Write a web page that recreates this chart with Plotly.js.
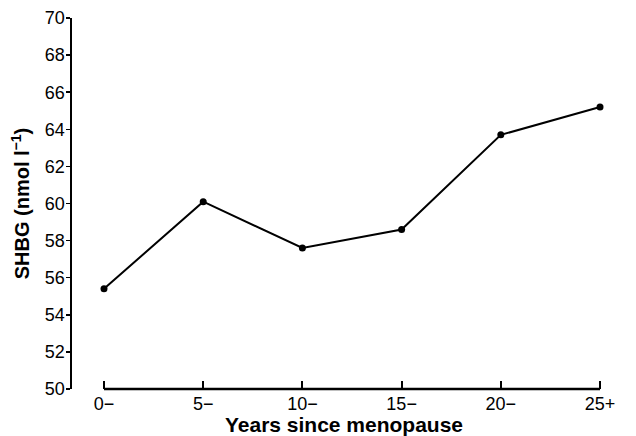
<!DOCTYPE html>
<html>
<head>
<meta charset="utf-8">
<script src="https://cdn.plot.ly/plotly-3.0.1.min.js"></script>
<style>html,body{margin:0;padding:0;background:#fff;}#chart{width:636px;height:436px;}</style>
</head>
<body>
<div id="chart"></div>
<script>
var categories = ['0\u2212', '5\u2212', '10\u2212', '15\u2212', '20\u2212', '25+'];
var shbg = [55.4, 60.1, 57.6, 58.6, 63.7, 65.2];
var yTicks = [50, 52, 54, 56, 58, 60, 62, 64, 66, 68, 70];

var trace = {
  x: categories,
  y: shbg,
  type: 'scatter',
  mode: 'lines+markers',
  line: {color: '#000', width: 2},
  marker: {color: '#000', size: 7},
  hoverinfo: 'none'
};

var layout = {
  width: 636, height: 436,
  margin: {l: 72, r: 20, t: 18, b: 47},
  paper_bgcolor: '#fff', plot_bgcolor: '#fff',
  showlegend: false,
  font: {family: 'Liberation Sans, Arial, sans-serif', color: '#000', size: 18},
  xaxis: {
    type: 'category',
    range: [-0.3226, 5.161],
    showgrid: false, zeroline: false, showline: false,
    ticks: 'inside', ticklen: 8, tickwidth: 2, tickcolor: '#000',
    tickfont: {size: 18, color: '#000'},
    ticklabelstandoff: 2,
    title: {text: '<b>Years since menopause</b>', font: {size: 21, color: '#000'}, standoff: 14}
  },
  yaxis: {
    range: [50, 70],
    tickvals: yTicks,
    showgrid: false, zeroline: false,
    showline: true, linecolor: '#000', linewidth: 2.5,
    ticks: 'outside', ticklen: 4, tickwidth: 1.5, tickcolor: '#000',
    tickfont: {size: 18, color: '#000'},
    ticklabelstandoff: -3,
    title: {text: '<b>SHBG (nmol l<sup>\u22121</sup>)</b>', font: {size: 20, color: '#000'}, standoff: 10}
  },
  shapes: [{
    type: 'line', xref: 'x', yref: 'paper',
    x0: 0, x1: 5, y0: 0, y1: 0,
    line: {color: '#000', width: 2.5}
  }]
};

Plotly.newPlot('chart', [trace], layout, {staticPlot: true, displayModeBar: false});
</script>
</body>
</html>
